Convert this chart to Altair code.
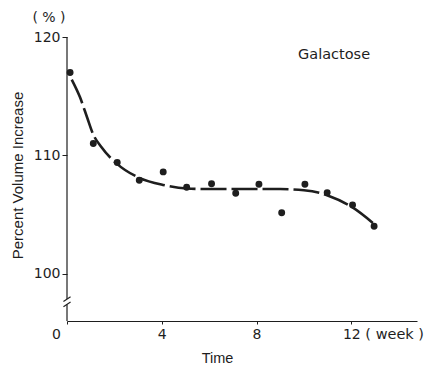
import altair as alt
import pandas as pd

# measured points
weeks = [0.13, 1.11, 2.12, 3.05, 4.06, 5.05, 6.1, 7.12, 8.1, 9.06, 10.04, 10.98, 12.05, 12.96]
volume = [117.0, 111.0, 109.4, 107.9, 108.6, 107.3, 107.6, 106.8, 107.55, 105.15, 107.55, 106.85, 105.8, 104.0]

# fitted curve
curve_x = [0.2, 0.55, 0.85, 1.1, 1.45, 2.1, 3.05, 4.05, 5.05, 6.0, 8.0, 9.0, 10.0, 10.7, 11.0, 12.05, 12.96]
curve_y = [116.4, 114.9, 113.2, 111.8, 110.7, 109.3, 108.1, 107.5, 107.2, 107.15, 107.15, 107.15, 107.05, 106.8, 106.6, 105.6, 104.2]

x_ticks = [0, 4, 8, 12]
y_ticks = [100, 110, 120]

# broken y axis segments
axis_y0 = [96, 97.85]
axis_y1 = [97.4, 120]
# break slashes
slash_x0 = [-0.15, -0.15]
slash_x1 = [0.15, 0.15]
slash_y0 = [97.2, 97.65]
slash_y1 = [97.6, 98.05]

INK = "#1e1e1e"
XDOM = [0, 14.77]
YDOM = [96, 120]

pts = pd.DataFrame({"week": weeks, "vol": volume})
crv = pd.DataFrame({"week": curve_x, "vol": curve_y})
ax = pd.DataFrame({"week": [0, 0], "y0": axis_y0, "y1": axis_y1})
sl = pd.DataFrame({"x0": slash_x0, "x1": slash_x1, "y0": slash_y0, "y1": slash_y1})

xs = alt.Scale(domain=XDOM, nice=False, zero=False)
ys = alt.Scale(domain=YDOM, nice=False, zero=False)

xaxis = alt.Axis(
    values=x_ticks, title="Time", titleFont="Liberation Sans", titleFontSize=14.5,
    titleFontWeight="normal", titleColor=INK, titleX=150, titleY=30, titleAnchor="middle",
    titleAlign="center", titleBaseline="top",
    labelFont="DejaVu Sans", labelFontSize=14, labelColor=INK, labelPadding=3,
    labelOffset={"expr": "datum.value == 0 ? -11 : 0"},
    tickSize=3, tickColor=INK, tickWidth=1, domainColor=INK, domainWidth=1.2,
    grid=False, labelFlush=False,
)
yaxis = alt.Axis(
    values=y_ticks, title="Percent Volume Increase", titleFont="Liberation Sans",
    titleFontSize=15, titleFontWeight="normal", titleColor=INK, titleX=-42, titleY=138,
    titleAnchor="middle", titleAlign="center", titleAngle=270, titleBaseline="bottom",
    labelFont="DejaVu Sans", labelFontSize=14, labelColor=INK, labelPadding=2,
    tickSize=5, tickColor=INK, tickWidth=1, domain=False, grid=False, labelFlush=False,
)

base_x = alt.X("week:Q", scale=xs, axis=xaxis)

curve = alt.Chart(crv).mark_line(
    color=INK, strokeWidth=2.6, strokeDash=[26, 5], interpolate="monotone"
).encode(x=base_x, y=alt.Y("vol:Q", scale=ys, axis=yaxis))

points = alt.Chart(pts).mark_point(filled=True, color=INK, size=48, opacity=1).encode(
    x=alt.X("week:Q", scale=xs), y=alt.Y("vol:Q", scale=ys)
)

yline = alt.Chart(ax).mark_rule(color=INK, strokeWidth=1.2).encode(
    x=alt.X("week:Q", scale=xs), y=alt.Y("y0:Q", scale=ys), y2="y1:Q"
)

slashes = alt.Chart(sl).mark_rule(color=INK, strokeWidth=1.1).encode(
    x=alt.X("x0:Q", scale=xs), x2="x1:Q", y=alt.Y("y0:Q", scale=ys), y2="y1:Q"
)

label_df = pd.DataFrame({"week": [9.75], "vol": [118.45], "t": ["Galactose"]})
galactose = alt.Chart(label_df).mark_text(
    font="DejaVu Sans", fontSize=14.5, color=INK, align="left", baseline="middle"
).encode(x=alt.X("week:Q", scale=xs), y=alt.Y("vol:Q", scale=ys), text="t:N")

unit_df = pd.DataFrame({"week": [12], "t": ["( week )"]})
week_unit = alt.Chart(unit_df).mark_text(
    font="DejaVu Sans", fontSize=14.5, color=INK, align="left", baseline="top", dx=14
).encode(x=alt.X("week:Q", scale=xs), y=alt.value(291), text="t:N")

pct_df = pd.DataFrame({"t": ["( % )"]})
pct = alt.Chart(pct_df).mark_text(
    font="DejaVu Sans", fontSize=14, color=INK, align="center", baseline="middle"
).encode(x=alt.value(-18), y=alt.value(-19), text="t:N")

chart = alt.layer(curve, points, yline, slashes, galactose, week_unit, pct).properties(
    width=350, height=284,
    autosize=alt.AutoSizeParams(type="none"),
    padding={"left": 67, "top": 37, "right": 10, "bottom": 47},
    background="white",
).configure_view(stroke=None)

chart.save("out.html", embed_options={"renderer": "svg", "actions": False})
